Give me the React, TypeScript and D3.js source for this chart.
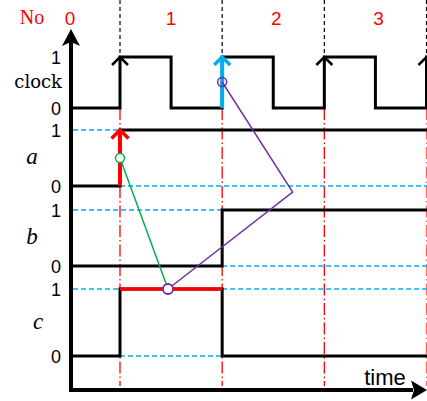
import React from 'react';
import * as d3 from 'd3';

// ---------- data ----------
const periodLabels = ['0', '1', '2', '3'];
const periodLabelT = [-0.49, 0.5, 1.53, 2.53];
const clockEdgesT = [0, 1, 2, 3];
const highlightEdgeT = 1;
const signalNames = ['clock', 'a', 'b', 'c'];
const levelLabels = ['0', '1'];
const clockSteps: [number, number][] = [[-0.46, 0], [0, 1], [0.5, 0], [1, 1], [1.5, 0], [2, 1], [2.5, 0], [3, 1], [3.1, 1]];
const aSteps: [number, number][] = [[-0.46, 0], [0, 1], [3.1, 1]];
const bSteps: [number, number][] = [[-0.46, 0], [1, 1], [3.1, 1]];
const cSteps: [number, number][] = [[-0.46, 0], [0, 1], [1, 0], [3.1, 0]];
// guides: [lane, level, tFrom, tTo]
const guides: [number, number, number, number][] = [
  [1, 1, -0.46, 0], [1, 0, 0, 3.1],
  [2, 1, -0.46, 1], [2, 0, 1, 3.1],
  [3, 1, -0.46, 0], [3, 1, 1, 3.1], [3, 0, 0, 3.1],
];
// red highlighted segment of c: [tFrom, tTo, level]
const cHighlight: [number, number, number] = [0, 1, 1];
// causal links: points [lane, t, level]
const greenLink: [number, number, number][] = [[1, 0, 0.5], [3, 0.47, 1]];
const purpleLink: [number, number, number][] = [[3, 0.47, 1], [1, 1.69, -0.11], [0, 1, 0.51]];

// ---------- layout ----------
const W = 427, H = 401;
const lanes = [
  { hi: 57, lo: 108 },
  { hi: 130, lo: 186 },
  { hi: 210, lo: 266 },
  { hi: 289, lo: 356 },
];
const x = d3.scaleLinear().domain([0, 3]).range([120, 426.5]);
const ys = lanes.map(l => d3.scaleLinear().domain([0, 1]).range([l.lo, l.hi]));
const axisX = 71, axisY = 390;

const stepLine = (lane: number) =>
  d3.line<[number, number]>().x(d => x(d[0])).y(d => ys[lane](d[1])).curve(d3.curveStepAfter);
const polyLine = d3.line<[number, number, number]>().x(d => x(d[1])).y(d => ys[d[0]](d[2]));

const RED = '#ff0000', BLUE = '#00b0f0', PURPLE = '#7030a0', GREEN = '#00b050';

export default function App() {
  const signals = [clockSteps, aSteps, bSteps, cSteps];
  return (
    <svg width={W} height={H} style={{ position: 'absolute', left: 0, top: 0, background: '#fff' }}>
      {/* black dashed above clock */}
      {clockEdgesT.map((t, i) => (
        <line key={'bd' + i} x1={x(t)} x2={x(t)} y1={0} y2={lanes[0].hi} stroke="#000" strokeWidth={1.2} strokeDasharray="4,3" />
      ))}
      {/* red dash-dot verticals */}
      {clockEdgesT.map((t, i) => (
        <line key={'rd' + i} x1={x(t)} x2={x(t)} y1={lanes[0].lo} y2={386} stroke={RED} strokeWidth={1.3} strokeDasharray="12,3,1.5,3" opacity={i === 3 ? 0.6 : 1} />
      ))}
      {/* blue dashed guides */}
      {guides.map((g, i) => (
        <line key={'g' + i} x1={x(g[2])} x2={x(g[3])} y1={ys[g[0]](g[1])} y2={ys[g[0]](g[1])} stroke={BLUE} strokeWidth={1.4} strokeDasharray="5,3" />
      ))}
      {/* signals */}
      {signals.map((s, i) => (
        <path key={'s' + i} d={stepLine(i)(s) || ''} fill="none" stroke="#000" strokeWidth={3} />
      ))}
      {/* red highlight of c */}
      <line x1={x(cHighlight[0])} x2={x(cHighlight[1])} y1={ys[3](cHighlight[2])} y2={ys[3](cHighlight[2])} stroke={RED} strokeWidth={3.5} />
      {/* clock rising arrows */}
      {clockEdgesT.map((t, i) => {
        const cx = x(t), cy = ys[0](1);
        const blue = t === highlightEdgeT;
        return (
          <g key={'ca' + i}>
            {blue && <line x1={cx} x2={cx} y1={ys[0](0)} y2={cy + 1} stroke={BLUE} strokeWidth={4} />}
            <path d={`M${cx - 8},${cy + 8} L${cx},${cy} L${cx + 8},${cy + 8}`} fill="none" stroke={blue ? BLUE : '#000'} strokeWidth={blue ? 3.5 : 2.5} />
          </g>
        );
      })}
      {/* red arrow for a rising */}
      <line x1={x(0)} x2={x(0)} y1={ys[1](0)} y2={ys[1](1) + 1} stroke={RED} strokeWidth={4} />
      <path d={`M${x(0) - 8.5},${ys[1](1) + 8.5} L${x(0)},${ys[1](1)} L${x(0) + 8.5},${ys[1](1) + 8.5}`} fill="none" stroke={RED} strokeWidth={3.5} />
      {/* causal links */}
      <path d={polyLine(greenLink) || ''} fill="none" stroke={GREEN} strokeWidth={1.5} />
      <path d={polyLine(purpleLink) || ''} fill="none" stroke={PURPLE} strokeWidth={1.5} />
      <circle cx={x(greenLink[0][1])} cy={ys[greenLink[0][0]](greenLink[0][2])} r={4.5} fill="#fff" stroke={GREEN} strokeWidth={1.5} />
      <circle cx={x(purpleLink[0][1])} cy={ys[purpleLink[0][0]](purpleLink[0][2])} r={5} fill="#fff" stroke={PURPLE} strokeWidth={1.8} />
      <circle cx={x(purpleLink[2][1])} cy={ys[purpleLink[2][0]](purpleLink[2][2])} r={4.5} fill="none" stroke={PURPLE} strokeWidth={1.5} />
      {/* axes */}
      <line x1={axisX} x2={axisX} y1={axisY + 2} y2={42} stroke="#000" strokeWidth={4} />
      <path d={`M${axisX},${29} L${axisX + 9},${46} L${axisX},${42} L${axisX - 9},${46} Z`} fill="#000" />
      <line x1={axisX - 2} x2={413} y1={axisY} y2={axisY} stroke="#000" strokeWidth={4} />
      <path d={`M${427},${axisY} L${411},${axisY - 9.5} L${414},${axisY} L${411},${axisY + 9.5} Z`} fill="#000" />
      {/* period labels */}
      <text x={32} y={24} fill={RED} fontFamily="Liberation Serif" fontSize={20} textAnchor="middle">No</text>
      {periodLabels.map((p, i) => (
        <text key={'p' + i} x={x(periodLabelT[i])} y={25} fill={RED} fontFamily="Liberation Sans" fontSize={19} textAnchor="middle">{p}</text>
      ))}
      {/* lane labels */}
      {signalNames.map((n, i) => (
        <g key={'l' + i}>
          {levelLabels.map((lv, j) => (
            <text key={lv} x={61} y={ys[i](j) + 6.5} fontFamily="Liberation Sans" fontSize={18} textAnchor="end">{lv}</text>
          ))}
          {i === 0 ? (
            <text x={62} y={88} fontFamily="DejaVu Serif" fontSize={18} textAnchor="end">{n}</text>
          ) : (
            <text x={i === 3 ? 38 : 32} y={(lanes[i].hi + lanes[i].lo) / 2 + 6} fontFamily="Liberation Serif" fontStyle="italic" fontSize={23} textAnchor="middle">{n}</text>
          )}
        </g>
      ))}
      <text x={385} y={385} fontFamily="Liberation Sans" fontSize={22} textAnchor="middle">time</text>
    </svg>
  );
}
